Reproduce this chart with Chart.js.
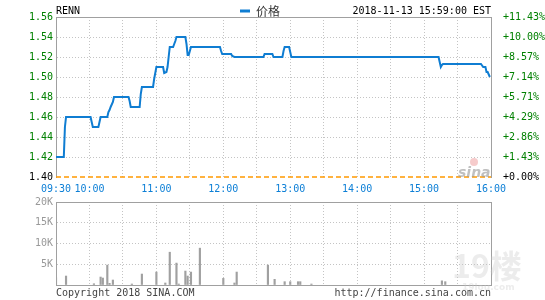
<!DOCTYPE html>
<html>
<head>
<meta charset="utf-8">
<script src="https://cdn.jsdelivr.net/npm/chart.js@4.4.0/dist/chart.umd.min.js"></script>
<style>
body { margin: 0; background: #fff; }
#wrap { position: relative; width: 545px; height: 300px; }
canvas { position: absolute; left: 0; }
#priceCanvas { top: 0; }
#volumeCanvas { top: 190px; }
</style>
</head>
<body>
<div id="wrap">
<canvas id="priceCanvas" width="545" height="200"></canvas>
<canvas id="volumeCanvas" width="545" height="110"></canvas>
</div>
<script>
// minutes after 09:30
const timeTicks = [0, 30, 60, 90, 120, 150, 180, 210, 240, 270, 300, 330, 360, 390];
const timeLabels = ['09:30', '10:00', '', '11:00', '', '12:00', '', '13:00', '', '14:00', '', '15:00', '', '16:00'];

const prevClose = 1.40;
const priceTicks = [1.40, 1.42, 1.44, 1.46, 1.48, 1.50, 1.52, 1.54, 1.56];

const priceTimes = [0, 7, 8, 9, 31, 32, 33, 38, 39, 40, 46, 47, 48, 49, 51, 52, 65, 66, 67, 75, 76, 77,
    87, 88, 89, 90, 96, 97, 99, 100, 101, 102, 105, 106, 107, 108, 116, 117, 118, 119, 120, 121,
    147, 148, 149, 157, 158, 160, 186, 187, 194, 195, 203, 204, 205, 209, 210, 211,
    343, 344, 345, 346, 347, 381, 383, 385, 386, 387, 389];
const priceValues = [1.42, 1.42, 1.45, 1.46, 1.46, 1.455, 1.45, 1.45, 1.455, 1.46, 1.46, 1.465, 1.467, 1.47, 1.475, 1.48, 1.48, 1.476, 1.47, 1.47, 1.483, 1.49,
    1.49, 1.498, 1.504, 1.51, 1.51, 1.504, 1.505, 1.51, 1.52, 1.53, 1.53, 1.533, 1.536, 1.54, 1.54, 1.533, 1.522, 1.522, 1.526, 1.53,
    1.53, 1.526, 1.523, 1.523, 1.521, 1.52, 1.52, 1.523, 1.523, 1.52, 1.52, 1.526, 1.53, 1.53, 1.525, 1.52,
    1.52, 1.515, 1.51, 1.512, 1.513, 1.513, 1.51, 1.51, 1.505, 1.505, 1.50];

const volTicks = [0, 5000, 10000, 15000, 20000];
const volLabels = ['', '5K', '10K', '15K', '20K'];
const volTimes = [0, 9, 34, 40, 42, 46, 48, 51, 68, 77, 90, 98, 102, 108, 110, 116, 118, 121, 129,
    150, 160, 162, 190, 196, 205, 210, 217, 219, 229, 346, 349];
const volValues = [1750, 2160, 300, 1920, 1680, 4800, 400, 1200, 240, 2640, 3120, 480, 7900, 5280, 240, 3360, 2160, 3120, 8880,
    1600, 480, 3120, 4800, 1370, 800, 800, 800, 800, 240, 1000, 800];

Chart.defaults.font.family = "'DejaVu Sans Mono', monospace";
Chart.defaults.font.size = 10;

const frameColor = '#a0a0a0';
const gridColor = '#c4c4c4';
const none = 'rgba(0,0,0,0)';

const textPlugin = {
    id: 'texts',
    afterDraw(chart) {
        const ctx = chart.ctx;
        ctx.save();
        ctx.textBaseline = 'middle';
        ctx.font = "10px 'DejaVu Sans Mono'";
        ctx.fillStyle = '#000';
        ctx.textAlign = 'left';
        ctx.fillText('RENN', 56, 11);
        ctx.textAlign = 'right';
        ctx.fillText('2018-11-13 15:59:00 EST', 491, 11);
        // legend
        ctx.strokeStyle = '#0f7dd2';
        ctx.lineWidth = 3;
        ctx.beginPath();
        ctx.moveTo(240, 11);
        ctx.lineTo(250, 11);
        ctx.stroke();
        ctx.textAlign = 'left';
        ctx.font = "12px 'Noto Sans CJK SC'";
        ctx.fillStyle = '#333';
        ctx.fillText('价格', 256, 11);
        // sina watermark
        ctx.fillStyle = 'rgba(235,140,140,0.45)';
        ctx.beginPath();
        ctx.arc(474, 162, 4, 0, Math.PI * 2);
        ctx.fill();
        ctx.font = "italic bold 14px 'DejaVu Sans'";
        ctx.fillStyle = 'rgba(150,150,150,0.6)';
        ctx.fillText('sina', 458, 173);
        ctx.restore();
    }
};

const footerPlugin = {
    id: 'footer',
    afterDraw(chart) {
        const ctx = chart.ctx;
        ctx.save();
        ctx.font = "bold 32px 'Noto Sans CJK SC'";
        ctx.fillStyle = 'rgba(200,200,200,0.35)';
        ctx.textBaseline = 'alphabetic';
        ctx.textAlign = 'left';
        ctx.fillText('19楼', 452, 88);
        ctx.font = "bold 9px 'DejaVu Sans'";
        ctx.fillText('19lou.com', 462, 100);
        ctx.font = "10px 'DejaVu Sans Mono'";
        ctx.fillStyle = '#444';
        ctx.textBaseline = 'middle';
        ctx.fillText('Copyright 2018 SINA.COM', 56, 103);
        ctx.textAlign = 'right';
        ctx.fillText('http://finance.sina.com.cn', 491, 103);
        ctx.restore();
    }
};

const timeAxis = (height, showLabels) => ({
    type: 'linear',
    min: 0,
    max: 390,
    offset: false,
    afterBuildTicks: s => { s.ticks = timeTicks.map(v => ({value: v})); },
    afterFit: s => { s.height = height; },
    ticks: {
        display: showLabels,
        autoSkip: false,
        maxRotation: 0,
        padding: 6,
        color: '#0c7fd6',
        callback: (v, i) => timeLabels[i]
    },
    grid: {
        offset: false,
        drawTicks: false,
        color: c => (c.index === 0 || c.index === timeTicks.length - 1) ? none : gridColor
    },
    border: {display: false, dash: [1, 2]}
});

const valueGrid = count => ({
    drawTicks: false,
    color: c => c.index === count - 1 ? frameColor : (c.index === 0 ? none : gridColor)
});
const valueDash = count => c => (c.type === 'tick' && c.index !== count - 1) ? [1, 2] : [];

const priceChart = new Chart(document.getElementById('priceCanvas'), {
    type: 'line',
    data: {
        datasets: [{
            label: '价格',
            data: priceTimes.map((t, i) => ({x: t, y: priceValues[i]})),
            borderColor: '#0f7dd2',
            borderWidth: 2,
            pointRadius: 0,
            tension: 0
        }, {
            label: 'prevClose',
            data: [{x: 0, y: prevClose}, {x: 390, y: prevClose}],
            borderColor: '#ff9900',
            borderWidth: 1.5,
            borderDash: [5, 3],
            pointRadius: 0,
            clip: 4
        }]
    },
    options: {
        responsive: false,
        animation: false,
        layout: {padding: {top: 17}},
        plugins: {legend: {display: false}, tooltip: {enabled: false}},
        scales: {
            x: timeAxis(23, true),
            y: {
                min: 1.40,
                max: 1.56,
                afterBuildTicks: s => { s.ticks = priceTicks.map(v => ({value: v})); },
                afterFit: s => { s.width = 56; },
                ticks: {
                    padding: 3,
                    color: c => c.index === 0 ? '#000' : '#008000',
                    callback: v => v.toFixed(2)
                },
                grid: valueGrid(priceTicks.length),
                border: {color: frameColor, dash: valueDash(priceTicks.length)}
            },
            y1: {
                position: 'right',
                min: 1.40,
                max: 1.56,
                afterBuildTicks: s => { s.ticks = priceTicks.map(v => ({value: v})); },
                afterFit: s => { s.width = 54; },
                ticks: {
                    padding: 4,
                    color: c => c.index === 0 ? '#000' : '#008000',
                    callback: v => '+' + ((v - prevClose) / prevClose * 100).toFixed(2) + '%'
                },
                grid: {display: false},
                border: {color: frameColor}
            }
        }
    },
    plugins: [textPlugin]
});

const volumeChart = new Chart(document.getElementById('volumeCanvas'), {
    type: 'bar',
    data: {
        datasets: [{
            label: 'volume',
            data: volTimes.map((t, i) => ({x: t, y: volValues[i]})),
            backgroundColor: '#a0a0a0',
            barThickness: 1.5
        }]
    },
    options: {
        responsive: false,
        animation: false,
        layout: {padding: {top: 12}},
        plugins: {legend: {display: false}, tooltip: {enabled: false}},
        scales: {
            x: Object.assign(timeAxis(15, false), {border: {color: frameColor, dash: [1, 2]}}),
            y: {
                min: 0,
                max: 20000,
                afterBuildTicks: s => { s.ticks = volTicks.map(v => ({value: v})); },
                afterFit: s => { s.width = 56; },
                ticks: {padding: 3, color: '#999', callback: (v, i) => volLabels[i]},
                grid: valueGrid(volTicks.length),
                border: {color: frameColor, dash: valueDash(volTicks.length)}
            },
            y1: {
                position: 'right',
                min: 0,
                max: 20000,
                afterFit: s => { s.width = 54; },
                ticks: {display: false},
                grid: {display: false},
                border: {color: frameColor}
            }
        }
    },
    plugins: [footerPlugin]
});
</script>
</body>
</html>
